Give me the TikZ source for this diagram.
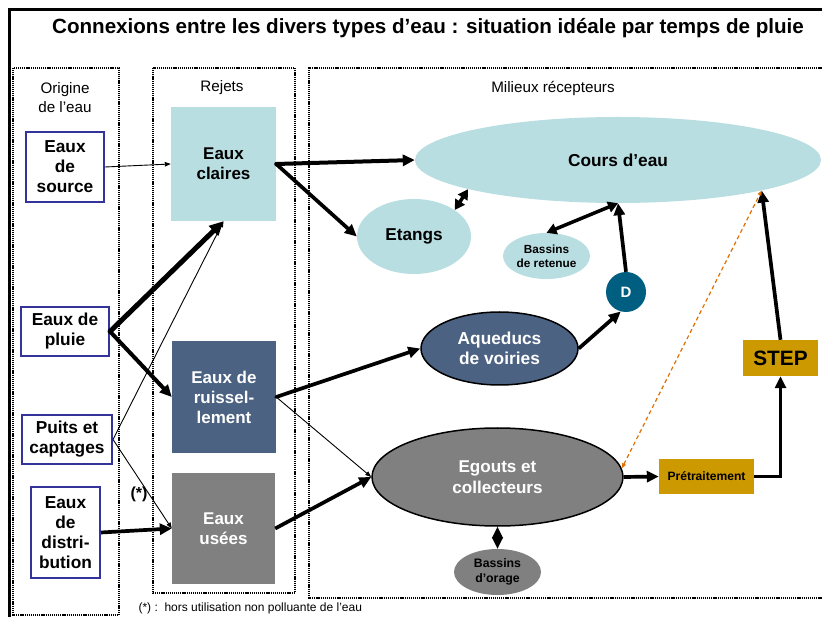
\documentclass[tikz,border=0pt]{standalone}
\usepackage{fontspec}
\setmainfont{Liberation Sans}
\usetikzlibrary{arrows.meta,shapes.geometric,calc}
\definecolor{clair}{RGB}{184,222,226}
\definecolor{ruiss}{RGB}{76,98,130}
\definecolor{grisu}{RGB}{128,128,128}
\definecolor{dcol}{RGB}{0,94,128}
\definecolor{goldc}{RGB}{204,153,0}
\definecolor{bordblue}{RGB}{51,51,153}
\definecolor{orng}{RGB}{224,112,0}
\begin{document}
\begin{tikzpicture}[x=1pt,y=-1pt,
  srcbox/.style={draw=bordblue,line width=2pt,fill=white,align=center,inner sep=0pt,
     font=\fontsize{17.3}{20}\selectfont\bfseries},
  rejbox/.style={align=center,inner sep=0pt,font=\fontsize{17}{20}\selectfont\bfseries},
  ovalnode/.style={ellipse,align=center,inner sep=0pt},
  colframe/.style={line width=1.4pt,dash pattern=on 1.2pt off 0.9pt},
  colhead/.style={align=center,font=\fontsize{15.2}{19}\selectfont},
  bigarrow/.style={line width=3.7pt,-{Triangle[length=12pt,width=11pt]}},
  hugearrow/.style={line width=5pt,-{Triangle[length=14pt,width=13pt]}},
  thinarrow/.style={line width=0.9pt,-{Triangle[length=6pt,width=4.5pt]}},
  dblarrow/.style={line width=3.5pt,{Triangle[length=10pt,width=11pt]}-{Triangle[length=10pt,width=11pt]}},
  goldbox/.style={fill=goldc,inner sep=0pt,align=center,font=\bfseries}
]
\useasboundingbox (0,0) rectangle (822,617);
\fill[white] (0,0) rectangle (822,617);
% outer frame
\draw[line width=3pt] (9.5,617) -- (9.5,9.5) -- (822,9.5);
\node[font=\fontsize{20.6}{24}\selectfont\bfseries] (title) at (428,28)
  {Connexions entre les divers types d’eau : situation idéale par temps de pluie};
% column frames
\draw[colframe] (13,68) rectangle (119,615);
\draw[colframe] (153,68) rectangle (295,593);
\draw[colframe] (830,68) -- (309,68) -- (309,598) -- (830,598);
\node[colhead] (h1) at (65,98) {Origine\\de l’eau};
\node[colhead] (h2) at (222,88) {Rejets};
\node[colhead] (h3) at (553,88) {Milieux récepteurs};
% origin nodes
\node[srcbox,minimum width=78pt,minimum height=70pt] (source) at (65,167) {Eaux\\de\\source};
\node[srcbox,minimum width=88pt,minimum height=49pt] (pluie) at (65,331.5) {Eaux de\\pluie};
\node[srcbox,minimum width=90pt,minimum height=49pt] (puits) at (67,439.5) {Puits et\\captages};
\node[srcbox,minimum width=69pt,minimum height=91pt] (distrib) at (65.5,532.5) {Eaux\\de\\distri-\\bution};
% rejets
\node[rejbox,fill=clair,minimum width=105pt,minimum height=114pt] (claires) at (223.5,164) {Eaux\\claires};
\node[rejbox,fill=ruiss,text=white,minimum width=104pt,minimum height=112pt] (ruissel) at (224,397) {Eaux de\\ruissel-\\lement};
\node[rejbox,fill=grisu,text=white,minimum width=103pt,minimum height=111pt] (usees) at (223.5,528.5) {Eaux\\usées};
% milieux
\node[ovalnode,fill=clair,minimum width=406pt,minimum height=86pt,font=\fontsize{17.3}{20}\selectfont\bfseries] (cours) at (618,160) {Cours d’eau};
\node[ovalnode,fill=clair,minimum width=114pt,minimum height=75pt,font=\fontsize{17.2}{20}\selectfont\bfseries] (etangs) at (414,236.5) {Etangs};
\node[ovalnode,fill=clair,minimum width=87pt,minimum height=46pt,font=\fontsize{11.8}{14}\selectfont\bfseries] (retenue) at (546.5,256) {Bassins\\de retenue};
\node[circle,fill=dcol,text=white,minimum size=40pt,inner sep=0pt,font=\fontsize{15}{18}\selectfont\bfseries] (D) at (626,292) {D};
\node[ovalnode,draw=black,line width=1.5pt,fill=ruiss,text=white,minimum width=157pt,minimum height=73pt,font=\fontsize{17.3}{20}\selectfont\bfseries] (aqueducs) at (499.5,348.5) {Aqueducs\\de voiries};
\node[ovalnode,draw=black,line width=1.5pt,fill=grisu,text=white,minimum width=251pt,minimum height=98pt,font=\fontsize{17.1}{20.5}\selectfont\bfseries] (egouts) at (497.5,477) {Egouts et\\collecteurs};
\node[ovalnode,fill=grisu,minimum width=87pt,minimum height=46pt,font=\fontsize{12.3}{15}\selectfont\bfseries] (orage) at (497.5,572) {Bassins\\d’orage};
\node[goldbox,minimum width=95pt,minimum height=35pt,font=\fontsize{12.1}{14}\selectfont\bfseries] (pretr) at (706.5,476.5) {Prétraitement};
\node[goldbox,minimum width=75pt,minimum height=36pt,font=\fontsize{20.8}{24}\selectfont\bfseries] (step) at (780.5,358) {STEP};
% labels
\node[font=\fontsize{16}{18}\selectfont\bfseries] (star) at (139,494) {(*)};
\node[anchor=west,font=\fontsize{12}{14}\selectfont] (note) at (135,608) {(*) :\ \ hors utilisation non polluante de l’eau};
% connectors
\draw[thinarrow] (source.east) -- (claires.west);
\draw[thinarrow] (puits.east) -- (claires.south);
\draw[thinarrow] (puits.east) -- (usees.west);
\draw[hugearrow,line cap=round] (pluie.east) -- (claires.south);
\draw[bigarrow,line width=4pt,line cap=round] (pluie.east) -- (ruissel.west);
\draw[bigarrow] (distrib.east) -- (usees.west);
\draw[bigarrow,line width=4pt,line cap=round] (claires.east) -- (cours.west);
\draw[bigarrow,line cap=round] (claires.east) -- (etangs.west);
\draw[dblarrow] (etangs.33) -- (cours.191);
\draw[dblarrow] (retenue.north) -- (cours.south);
\draw[bigarrow] (D.north) -- (cours.south);
\draw[bigarrow] (aqueducs.east) -- (D.255);
\draw[bigarrow,line cap=round] (ruissel.east) -- (aqueducs.west);
\draw[thinarrow] (ruissel.east) -- (egouts.west);
\draw[bigarrow] (usees.east) -- (egouts.west);
\draw[bigarrow] (egouts.east) -- (pretr.west);
\draw[bigarrow] (pretr.east) -| (step.south);
\draw[bigarrow] (step.north) -- (cours.-12);
\draw[orng,line width=1.2pt,dash pattern=on 4pt off 3pt,{Triangle[length=5pt,width=4pt]}-{Triangle[length=5pt,width=4pt]}] (egouts.4) -- (cours.-12);
\draw[line width=1.5pt,{Triangle[length=11.5pt,width=11pt]}-{Triangle[length=11.5pt,width=11pt]}] (egouts.south) -- (orage.north);
\end{tikzpicture}
\end{document}
